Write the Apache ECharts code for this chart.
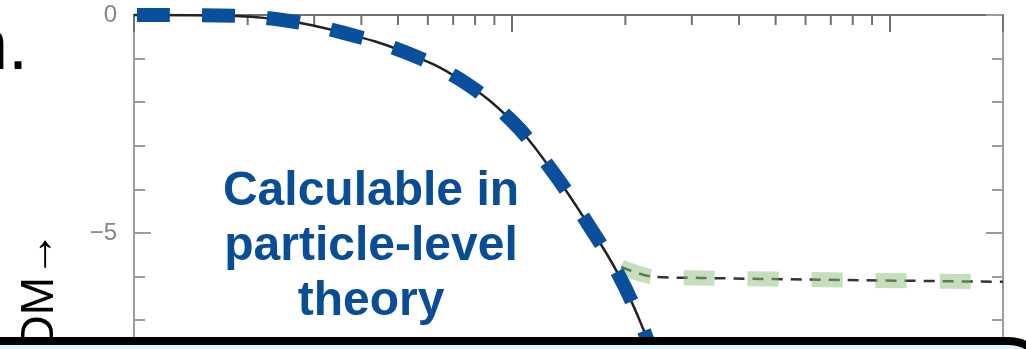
<!DOCTYPE html>
<html>
<head>
<meta charset="utf-8">
<script src="https://cdn.jsdelivr.net/npm/echarts@6/dist/echarts.min.js"></script>
<style>
html,body{margin:0;padding:0;background:#fff;}
#c{width:1026px;height:349px;}
</style>
</head>
<body>
<div id="c"></div>
<script>
// theory curve (black solid + blue dashed overlay)
const curveX = [1, 1.67, 2.45, 3.59, 5.21, 7.33, 10.06, 12.76, 15.8, 19.2, 22.3, 25];
const curveY = [0, -0.01, -0.11, -0.41, -0.85, -1.49, -2.45, -3.56, -4.75, -5.96, -7.2, -8.4];
// plateau curve (black dashed + green band)
const plateauX = [19.5, 23.5, 31.4, 78.4, 200];
const plateauY = [-5.78, -6.0, -6.03, -6.08, -6.12];
// axis ticks
const xMinorTicks = [2, 3, 4, 5, 6, 7, 8, 9, 20, 30, 40, 50, 60, 70, 80, 90];
const yLabelValues = [0, -5];
const annotationLines = ['Calculable in', 'particle-level', 'theory'];

const zip = (xs, ys) => xs.map((x, i) => [x, ys[i]]);
const FONT = '"Liberation Sans", Arial, Helvetica, sans-serif';
const chart = echarts.init(document.getElementById('c'), null, {renderer: 'canvas'});

const yAxisBase = {
  type: 'value', min: -10, max: 0, interval: 5,
  splitLine: {show: false}, minorSplitLine: {show: false},
  axisLine: {show: true, onZero: false, lineStyle: {color: '#9c9c9c', width: 2}},
  axisTick: {show: true, inside: true, length: 17, lineStyle: {color: '#9c9c9c', width: 2}},
  minorTick: {show: true, splitNumber: 5, length: 11, lineStyle: {color: '#9c9c9c', width: 2}}
};

chart.setOption({
  animation: false,
  backgroundColor: '#ffffff',
  grid: {left: 134, top: 15, width: 869, height: 436, containLabel: false, outerBoundsMode: 'none'},
  xAxis: [{
    type: 'log', logBase: 10, min: 1, max: 200, position: 'top',
    axisLine: {show: true, onZero: false, lineStyle: {color: '#707070', width: 2}},
    axisTick: {show: true, inside: true, length: 17, lineStyle: {color: '#707070', width: 2}},
    axisLabel: {show: false},
    splitLine: {show: false}
  }],
  yAxis: [
    Object.assign({}, yAxisBase, {
      position: 'left',
      axisLabel: {
        show: true, margin: 17, color: '#858585', fontSize: 24, fontFamily: FONT,
        formatter: v => yLabelValues.includes(v) ? (v < 0 ? '\u2212' + Math.abs(v) : String(v)) : ''
      }
    }),
    Object.assign({}, yAxisBase, {position: 'right', axisLabel: {show: false}})
  ],
  series: [
    {
      type: 'custom', xAxisIndex: 0, yAxisIndex: 0, silent: true, clip: false,
      data: xMinorTicks.map(v => [v, 0]),
      renderItem: (params, api) => {
        const p = api.coord([api.value(0), 0]);
        return {type: 'line', shape: {x1: p[0], y1: p[1], x2: p[0], y2: p[1] + 10},
                style: {stroke: '#707070', lineWidth: 2}};
      }
    },
    {
      type: 'line', data: zip(curveX, curveY), smooth: 0.4, showSymbol: false, clip: false,
      lineStyle: {color: '#222222', width: 2.5}, z: 3
    },
    {
      type: 'line', data: zip(plateauX, plateauY), smooth: 0.3, showSymbol: false, clip: false,
      lineStyle: {color: '#333333', width: 2.5, type: [11, 8]}, z: 3
    },
    {
      type: 'line', data: zip(plateauX, plateauY), smooth: 0.3, showSymbol: false, clip: false,
      lineStyle: {color: 'rgba(140,190,120,0.5)', width: 15, type: [31, 33], cap: 'butt'}, z: 4
    },
    {
      type: 'line', data: zip(curveX, curveY), smooth: 0.4, showSymbol: false, clip: false,
      lineStyle: {color: '#0a4f9b', width: 14, type: [33, 32], dashOffset: -3, cap: 'butt'}, z: 5
    }
  ],
  graphic: [
    {
      type: 'text', x: 28, y: 49, z: 100,
      style: {text: 'n.', font: '72px ' + FONT, fill: '#000', textAlign: 'right', textVerticalAlign: 'middle'}
    },
    {
      type: 'text', x: 40, y: 231, rotation: Math.PI / 2, z: 100,
      style: {text: 'DM\u2192', font: '46px ' + FONT, fill: '#000', textAlign: 'right', textVerticalAlign: 'middle'}
    },
    {
      type: 'text', x: 371, y: 247, z: 100,
      style: {text: annotationLines.join('\n'), font: 'bold 48px ' + FONT, lineHeight: 55,
              fill: '#0a4d97', textAlign: 'center', textVerticalAlign: 'middle'}
    },
    {
      type: 'rect', z: 120,
      shape: {x: -40, y: 341, width: 1088, height: 80, r: 40},
      style: {fill: '#dcf7f9', stroke: '#000', lineWidth: 8}
    }
  ]
});
</script>
</body>
</html>
